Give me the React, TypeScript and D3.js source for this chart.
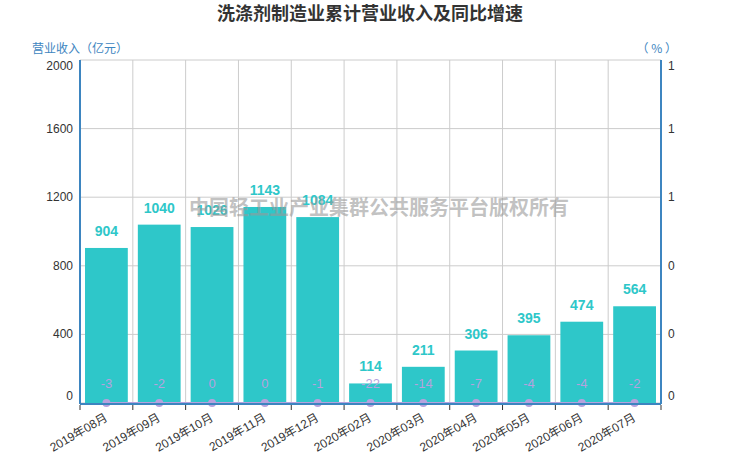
import * as d3 from "d3";

const months = ["2019年08月", "2019年09月", "2019年10月", "2019年11月", "2019年12月", "2020年02月", "2020年03月", "2020年04月", "2020年05月", "2020年06月", "2020年07月"];
const revenue = [904, 1040, 1026, 1143, 1084, 114, 211, 306, 395, 474, 564];
const growth = [-3, -2, 0, 0, -1, -22, -14, -7, -4, -4, -2];
const leftTicks = [0, 400, 800, 1200, 1600, 2000];
const rightTicks = [0, 0.2, 0.4, 0.6, 0.8, 1];

const width = 740;
const height = 462;
const margin = { top: 60, right: 79, bottom: 59, left: 80 };
const barColor = "#2ec7c9";
const lineColor = "#b6a2de";
const axisColor = "#3d85c0";
const font = "'Liberation Sans', Arial, sans-serif";
const cjk = "'Noto Sans CJK SC', 'Liberation Sans', sans-serif";
const mixed = "'Liberation Sans', 'Noto Sans CJK SC', sans-serif";

export default function App() {
  const x = d3.scaleBand<string>().domain(months).range([margin.left, width - margin.right]).paddingInner(0.19).paddingOuter(0.095);
  const xb = d3.scaleBand<string>().domain(months).range([margin.left, width - margin.right]);
  const y = d3.scaleLinear().domain([0, 2000]).range([height - margin.bottom, margin.top]);
  const y2 = d3.scaleLinear().domain([0, 1]).range([height - margin.bottom, margin.top]).clamp(true);
  const bottom = height - margin.bottom;
  const right = width - margin.right;
  const labelY = (v: number) => Math.min(Math.max(v, margin.top + 6), bottom - 7) + 4;
  const cx = (m: string) => (xb(m) ?? 0) + xb.bandwidth() / 2;
  const line = d3.line<number>().x((_, i) => cx(months[i])).y((d) => y2(d));
  const boundaries = months.map((m) => xb(m) ?? 0).concat([right]);

  return (
    <div style={{ position: "absolute", left: 0, top: 0 }}>
      <svg width={width} height={height} style={{ display: "block", background: "#fff" }}>
        <text x={370} y={20} textAnchor="middle" fontSize={18} fontWeight="bold" fill="#333" fontFamily={cjk}>洗涤剂制造业累计营业收入及同比增速</text>
        <text x={32} y={53} fontSize={12} fill={axisColor} fontFamily={cjk}>营业收入（亿元）</text>
        <text x={677} y={53} textAnchor="end" fontSize={12} fill={axisColor} fontFamily={cjk}>（ % ）</text>

        {leftTicks.map((t) => (
          <line key={t} x1={margin.left} x2={right} y1={y(t)} y2={y(t)} stroke="#ccc" />
        ))}
        {boundaries.map((b, i) => (
          <line key={i} x1={b} x2={b} y1={margin.top} y2={bottom} stroke="#ccc" />
        ))}

        {months.map((m, i) => (
          <rect key={m} x={x(m)} y={y(revenue[i])} width={x.bandwidth()} height={bottom - y(revenue[i])} fill={barColor} />
        ))}

        <path d={line(growth) ?? ""} fill="none" stroke={lineColor} strokeWidth={2} />
        {growth.map((g, i) => (
          <circle key={i} cx={cx(months[i])} cy={y2(g)} r={4} fill={lineColor} />
        ))}

        {/* axes */}
        <line x1={margin.left} x2={margin.left} y1={margin.top} y2={bottom + 1} stroke={axisColor} strokeWidth={2} />
        <line x1={right} x2={right} y1={margin.top} y2={bottom + 1} stroke={axisColor} strokeWidth={2} />
        <line x1={margin.left} x2={right} y1={bottom + 1} y2={bottom + 1} stroke={axisColor} strokeWidth={2} />
        {boundaries.map((b, i) => (
          <line key={i} x1={b} x2={b} y1={bottom + 2} y2={bottom + 7} stroke="#333" />
        ))}

        {leftTicks.map((t) => (
          <text key={t} x={73} y={labelY(y(t))} textAnchor="end" fontSize={12} fill="#333" fontFamily={font}>{t}</text>
        ))}
        {rightTicks.map((t) => (
          <text key={t} x={668} y={labelY(y2(t))} fontSize={12} fill="#333" fontFamily={font}>{Math.round(t)}</text>
        ))}

        {months.map((m) => (
          <text key={m} transform={`translate(${cx(m) + 2},${bottom + 17}) rotate(-30)`} textAnchor="end" fontSize={12} fill="#333" fontFamily={mixed}>{m}</text>
        ))}

        {months.map((m, i) => (
          <text key={m} x={cx(m)} y={y(revenue[i]) - 12} textAnchor="middle" fontSize={14} fontWeight="bold" fill={barColor} fontFamily={font}>{revenue[i]}</text>
        ))}
        {months.map((m, i) => (
          <text key={m} x={cx(m)} y={y2(growth[i]) - 15} textAnchor="middle" fontSize={13} fill={lineColor} fontFamily={font}>{growth[i]}</text>
        ))}

        <text x={379} y={215} textAnchor="middle" fontSize={20} fontWeight="bold" fill="#999" fillOpacity={0.6} fontFamily={cjk}>中国轻工业产业集群公共服务平台版权所有</text>
      </svg>
    </div>
  );
}
